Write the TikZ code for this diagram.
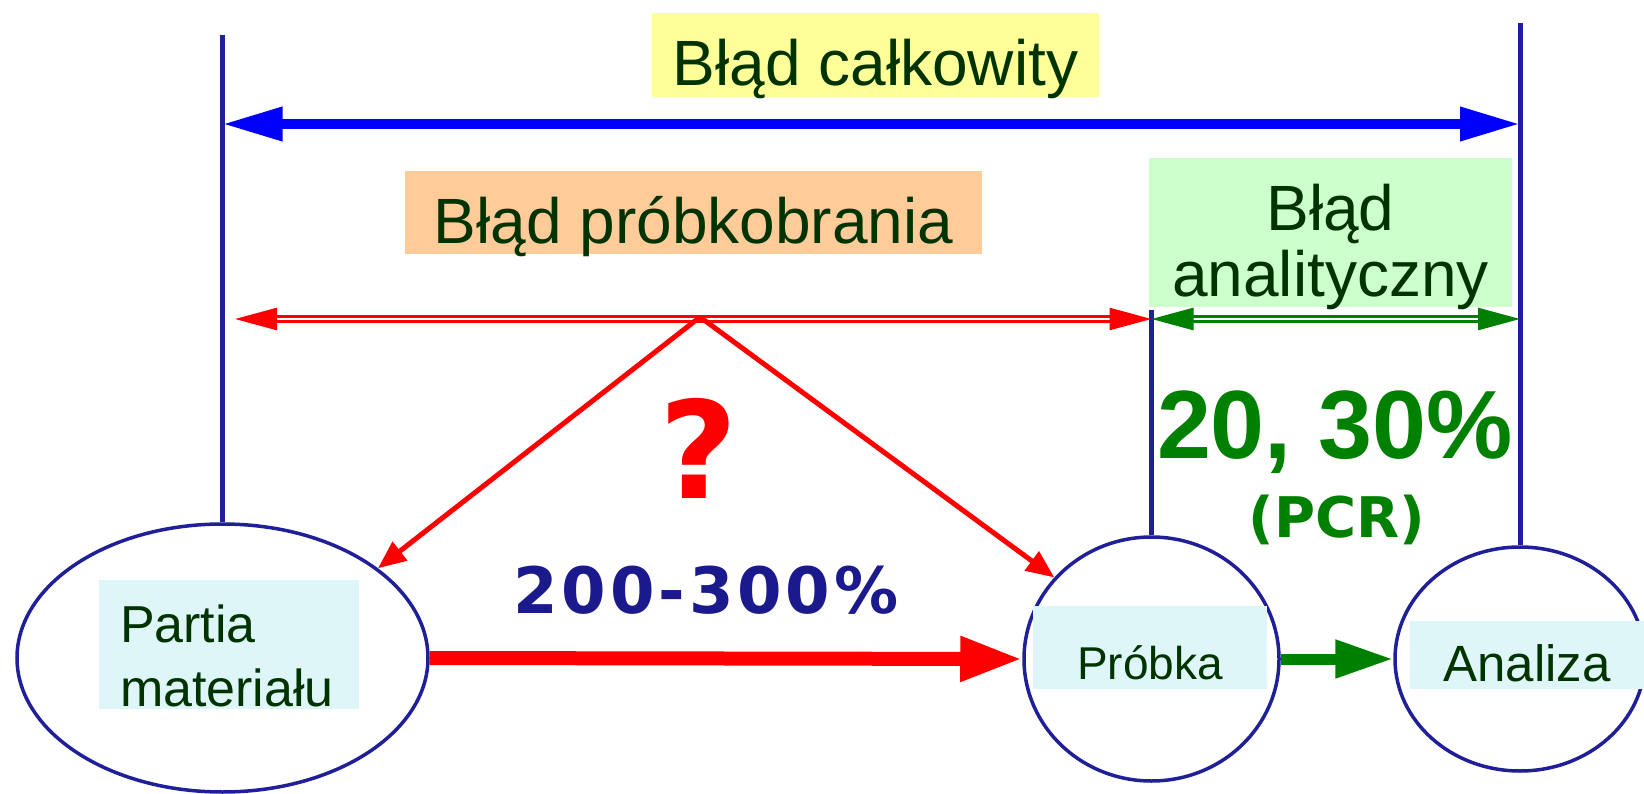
\documentclass[tikz,border=0pt]{standalone}
\usepackage{fontspec}
\setmainfont{Liberation Sans}
\newfontfamily\verdfont{DejaVu Sans}
\usetikzlibrary{arrows.meta, shapes.geometric}

\definecolor{darktext}{HTML}{003300}
\definecolor{frame}{RGB}{31,31,153}
\definecolor{navytext}{RGB}{26,26,140}
\definecolor{okgreen}{HTML}{008000}
\definecolor{boxyellow}{HTML}{FFFF99}
\definecolor{boxorange}{HTML}{FFCC99}
\definecolor{boxgreen}{HTML}{CCFFCC}
\definecolor{boxcyan}{HTML}{DFF6F9}

\begin{document}
\begin{tikzpicture}[
    x=1pt, y=-1pt,
    stage/.style={
        draw=frame,
        line width=3.5pt,
        ellipse,
        inner sep=0pt,
        fill=white
    },
    post/.style={
        draw=frame,
        line width=5pt
    },
    errbox/.style={
        anchor=base,
        inner sep=0pt,
        align=center,
        text=darktext,
        font=\fontsize{64}{66}\selectfont,
        text height=73pt
    },
    tag/.style={
        anchor=base,
        fill=boxcyan,
        inner sep=0pt,
        text=darktext
    },
    span/.style={
        draw=blue,
        line width=10pt,
        {Triangle[length=60pt,width=32pt]}-{Triangle[length=60pt,width=32pt]}
    },
    part/.style={
        draw=#1,
        double=white,
        double distance=2pt,
        line width=2.6pt,
        {Triangle[length=42pt,width=22pt]}-{Triangle[length=42pt,width=22pt]}
    },
    flow/.style={
        draw=#1,
        line width=14pt,
        -{Triangle[length=62pt,width=42pt]}
    }
]
\useasboundingbox (0,0) rectangle (1644,794);

% Stages
\node[stage, minimum width=411pt, minimum height=268pt] (partia) at (222.5,658) {};
\node[stage, minimum width=255pt, minimum height=244pt] (probka) at (1151.5,659) {};
\node[stage, minimum width=250pt, minimum height=224pt] (analiza) at (1520,659) {};

% Posts above the stages
\coordinate (partiaTop) at (222.5,35);
\coordinate (probkaTop) at (1151.5,310);
\coordinate (analizaTop) at (1520,23);
\draw[post] (partia.north) -- (partiaTop);
\draw[post] (probka.north) -- (probkaTop);
\draw[post] (analiza.north) -- (analizaTop);

% Error spans
\coordinate (totalL) at (222.5,124);
\coordinate (totalR) at (1520,124);
\coordinate (sampL) at (235,319);
\coordinate (split) at (1151.5,319);
\coordinate (anaR) at (1520,319);
\coordinate (apex) at (700,317);

\draw[span] (totalL) -- (totalR);
\draw[part=red] (sampL) -- (split);
\draw[part=okgreen] (split) -- (anaR);

\draw[red, line width=5pt, -{Triangle[length=28pt,width=23pt]}] (apex) -- (partia.30);
\draw[red, line width=5pt, -{Triangle[length=28pt,width=23pt]}] (apex) -- (probka.140);

% Flow between stages
\draw[flow=red] (partia.east) -- (probka.west);
\draw[flow=okgreen, line width=11pt, -{Triangle[length=58pt,width=36pt]}] (probka.east) -- (analiza.west);

% Error labels
\node[errbox, fill=boxyellow, minimum width=447pt, text depth=11pt] (total) at (875.5,86)
{Błąd całkowity};
\node[errbox, fill=boxorange, minimum width=577pt, text depth=10pt] (sampling) at (693.5,244)
{Błąd próbkobrania};
\node[errbox, fill=boxgreen, minimum width=363pt, text height=139pt, text depth=10pt] (analytic) at (1330.5,297)
{Błąd\\analityczny};

% Stage names
\node[tag, text width=218pt, inner xsep=21pt, align=left, text height=62pt, text depth=67pt,
      font=\fontsize{52}{64}\selectfont] (partiaTag) at (229,642)
{Partia\\materiału};
\node[tag, minimum width=234pt, text height=73pt, text depth=10pt,
      font=\fontsize{46}{50}\selectfont] (probkaTag) at (1150,679) {Próbka};
\node[tag, minimum width=234pt, text height=60pt, text depth=8pt,
      font=\fontsize{51}{54}\selectfont] (analizaTag) at (1527,681) {Analiza};

% Figures
\node[anchor=base, text=red, font=\verdfont\bfseries\fontsize{135}{140}\selectfont] (query) at (699,498) {?};
\node[anchor=base, text=navytext,
      font=\verdfont\bfseries\fontsize{64}{70}\selectfont\addfontfeature{LetterSpace=6}] (ratio) at (706,613) {200-300\%};
\node[anchor=base, text=okgreen, font=\bfseries\fontsize{97}{100}\selectfont] (share) at (1335,458) {20, 30\%};
\node[anchor=base, text=okgreen, font=\verdfont\bfseries\fontsize{56}{60}\selectfont] (method) at (1337,537) {(PCR)};

\end{tikzpicture}
\end{document}
